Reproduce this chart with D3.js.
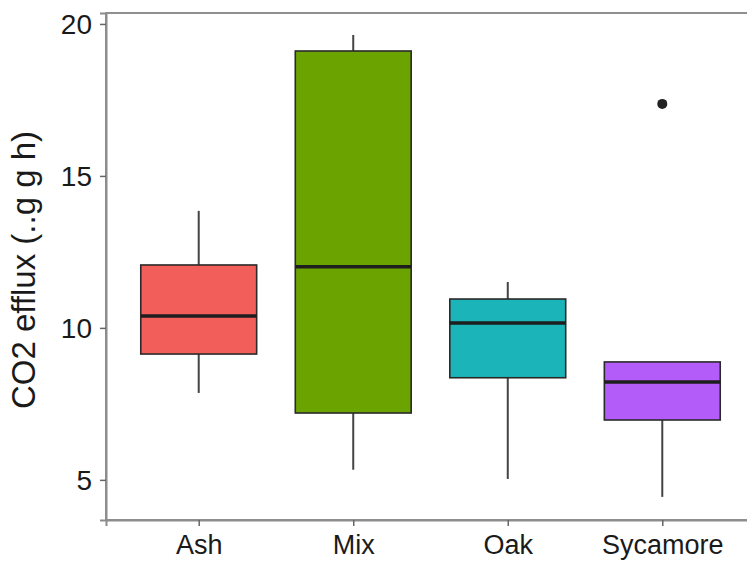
<!DOCTYPE html>
<html>
<head>
<meta charset="utf-8">
<script src="https://cdn.jsdelivr.net/npm/d3@7"></script>
<style>
  body { margin: 0; background: #fff; }
  svg { display: block; font-family: "Liberation Sans", Arial, sans-serif; }
</style>
</head>
<body>
<script>
const categories = ["Ash", "Mix", "Oak", "Sycamore"];
const whiskerLow = [7.86, 5.33, 5.03, 4.44];
const q1 = [9.14, 7.20, 8.36, 6.97];
const medians = [10.39, 12.01, 10.16, 8.22];
const q3 = [12.07, 19.11, 10.95, 8.88];
const whiskerHigh = [13.85, 19.64, 11.51, 8.88];
const outliers = [[], [], [], [17.37]];
const yTicks = [5, 10, 15, 20];
const fills = ["#F25E5A", "#6BA300", "#1AB4B9", "#B35CF9"];

let WIDTH = 747,
    HEIGHT = 562;

let panel = { left: 106, right: 755, top: 13, bottom: 520 };

let svg = d3.select("body").append("svg")
  .attr("width", WIDTH)
  .attr("height", HEIGHT);

let x = d3.scalePoint()
  .domain(categories)
  .range([panel.left, panel.right])
  .padding(0.6);

let y = d3.scaleLinear()
  .domain([3.68, 20.36])
  .range([panel.bottom, panel.top]);

let boxWidth = x.step() * 0.75;

let boxes = categories.map((c, i) => ({
  cat: c,
  lo: whiskerLow[i],
  q1: q1[i],
  med: medians[i],
  q3: q3[i],
  hi: whiskerHigh[i],
  out: outliers[i],
  fill: fills[i]
}));

// panel border
svg.append("rect")
  .attr("x", panel.left)
  .attr("y", panel.top)
  .attr("width", panel.right - panel.left)
  .attr("height", panel.bottom - panel.top)
  .attr("fill", "none")
  .attr("stroke", "#555")
  .attr("stroke-width", 1.3);

let g = svg.append("g");

// whiskers
g.selectAll(".whisker")
  .data(boxes)
  .enter().append("line")
    .attr("class", "whisker")
    .attr("x1", d => x(d.cat))
    .attr("x2", d => x(d.cat))
    .attr("y1", d => y(d.lo))
    .attr("y2", d => y(d.hi))
    .attr("stroke", "#444")
    .attr("stroke-width", 2);

// boxes
g.selectAll(".box")
  .data(boxes)
  .enter().append("rect")
    .attr("class", "box")
    .attr("x", d => x(d.cat) - boxWidth / 2)
    .attr("width", boxWidth)
    .attr("y", d => y(d.q3))
    .attr("height", d => y(d.q1) - y(d.q3))
    .attr("fill", d => d.fill)
    .attr("stroke", "#2a2a2a")
    .attr("stroke-width", 1.6);

// medians
g.selectAll(".median")
  .data(boxes)
  .enter().append("line")
    .attr("class", "median")
    .attr("x1", d => x(d.cat) - boxWidth / 2)
    .attr("x2", d => x(d.cat) + boxWidth / 2)
    .attr("y1", d => y(d.med))
    .attr("y2", d => y(d.med))
    .attr("stroke", "#1e1e1e")
    .attr("stroke-width", 3.5);

// outliers
boxes.forEach(d => {
  g.selectAll(".out-" + d.cat)
    .data(d.out)
    .enter().append("circle")
      .attr("cx", x(d.cat))
      .attr("cy", v => y(v))
      .attr("r", 5)
      .attr("fill", "#222");
});

// axes
let yAxis = svg.append("g")
  .attr("transform", "translate(" + panel.left + ",0)")
  .call(d3.axisLeft(y).tickValues(yTicks).tickSize(6).tickPadding(8));

let xAxis = svg.append("g")
  .attr("transform", "translate(0," + panel.bottom + ")")
  .call(d3.axisBottom(x).tickSize(6).tickPadding(5));

[yAxis, xAxis].forEach(a => {
  a.select(".domain").attr("stroke", "#8c8c8c").attr("stroke-width", 2);
  a.selectAll(".tick line").attr("stroke", "#666").attr("stroke-width", 1.5);
  a.selectAll(".tick text")
    .attr("fill", "#1a1a1a")
    .style("font-size", "28px")
    .style("font-family", "Liberation Sans, Arial, sans-serif");
});

yAxis.selectAll(".tick text").attr("dy", "0.35em");
xAxis.selectAll(".tick text")
  .attr("y", 34)
  .attr("dy", 0)
  .style("font-size", "27px");

// y title
svg.append("text")
  .attr("transform", "translate(35," + 270 + ") rotate(-90)")
  .attr("text-anchor", "middle")
  .attr("fill", "#1a1a1a")
  .style("font-size", "33px")
  .text("CO2 efflux (..g g h)");
</script>
</body>
</html>
